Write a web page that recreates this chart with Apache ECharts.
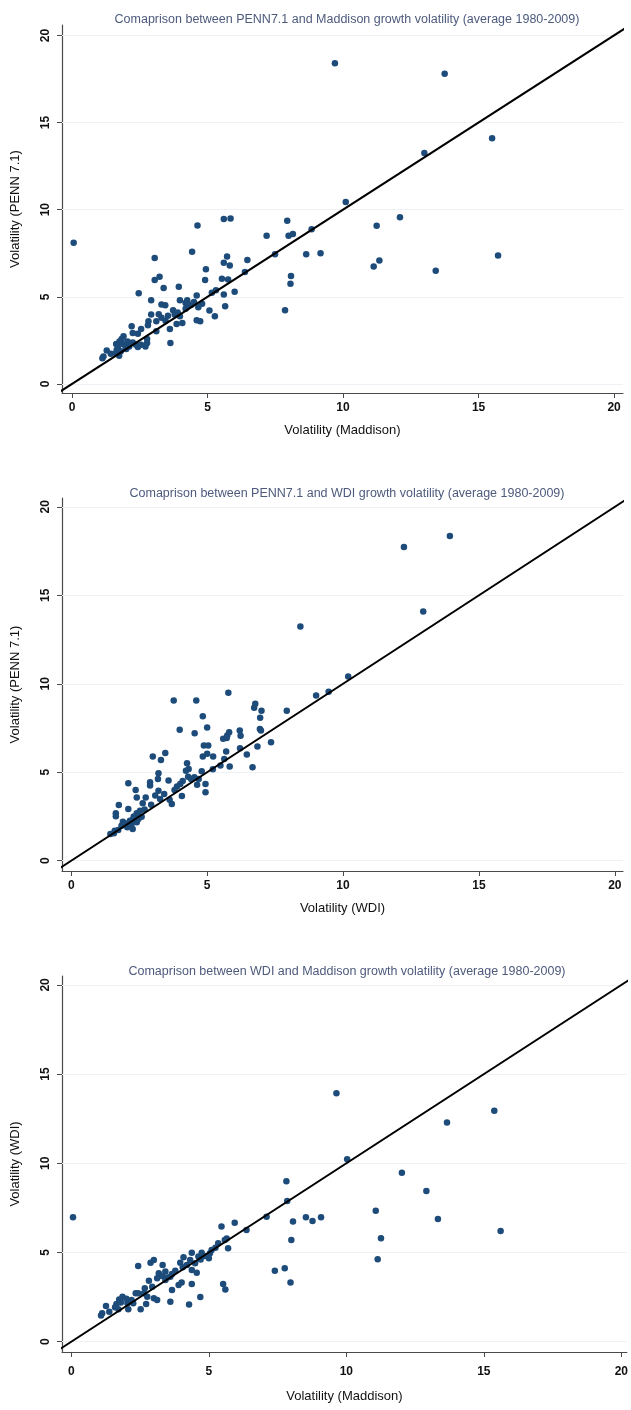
<!DOCTYPE html>
<html>
<head>
<meta charset="UTF-8">
<title>Volatility comparison</title>
<script src="https://cdn.jsdelivr.net/npm/echarts@6/dist/echarts.min.js"></script>
<style>
  html, body { margin: 0; padding: 0; background: #fff; }
  #main { width: 631px; height: 1410px; }
</style>
</head>
<body>
<div id="main"></div>
<script>
// ---- data: [x, y] per country ----
var tickValues = [0, 5, 10, 15, 20];
var titles = [
    'Comaprison between PENN7.1 and Maddison growth volatility (average 1980-2009)',
    'Comaprison between PENN7.1 and WDI growth volatility (average 1980-2009)',
    'Comaprison between WDI and Maddison growth volatility (average 1980-2009)'
];
var xNames = ['Volatility (Maddison)', 'Volatility (WDI)', 'Volatility (Maddison)'];
var yNames = ['Volatility (PENN 7.1)', 'Volatility (PENN 7.1)', 'Volatility (WDI)'];

// Maddison (x) vs PENN 7.1 (y)
var maddisonPenn = [
    [0.06, 8.1], [4.63, 9.1], [5.6, 9.46], [5.85, 9.5], [7.94, 9.37], [7.18, 8.5], [7.99, 8.5],
    [8.15, 8.6], [8.84, 8.88], [3.05, 7.23], [4.43, 7.58], [5.72, 7.31], [5.6, 6.96], [5.82, 6.8],
    [6.47, 7.12], [7.49, 7.44], [8.64, 7.44], [9.17, 7.5], [4.94, 6.58], [6.38, 6.42], [3.05, 5.96],
    [3.23, 6.15], [4.91, 5.96], [5.53, 6.04], [5.76, 6.0], [8.08, 6.19], [8.06, 5.75], [3.38, 5.5],
    [3.94, 5.58], [2.46, 5.21], [2.92, 4.81], [3.3, 4.56], [3.44, 4.52], [3.98, 4.81], [4.25, 4.81],
    [4.6, 5.08], [5.16, 5.23], [5.31, 5.38], [5.6, 5.13], [6.0, 5.29], [5.65, 4.46], [7.86, 4.23],
    [5.07, 4.21], [5.27, 3.88], [4.19, 4.65], [4.29, 4.56], [4.66, 4.4], [4.19, 4.31], [3.73, 4.23],
    [3.54, 3.92], [3.79, 3.98], [3.98, 3.88], [2.92, 3.98], [2.82, 3.6], [3.11, 3.6], [3.45, 3.63],
    [3.61, 3.15], [3.86, 3.44], [4.07, 3.5], [4.6, 3.65], [4.73, 3.6], [2.2, 3.31], [2.55, 3.15],
    [2.8, 3.37], [3.11, 3.02], [2.43, 2.88], [2.24, 2.92], [1.9, 2.73], [1.83, 2.58], [1.75, 2.44],
    [1.63, 2.29], [1.7, 2.15], [1.65, 1.96], [1.8, 1.87], [2.24, 2.38], [2.36, 2.25], [2.55, 2.25],
    [2.77, 2.35], [2.77, 2.58], [2.11, 2.15], [2.43, 2.12], [3.63, 2.35], [2.71, 2.15], [1.12, 1.48],
    [1.16, 1.58], [1.28, 1.92], [1.43, 1.73], [1.62, 1.77], [1.74, 1.62], [1.97, 2.15], [2.05, 2.44],
    [4.4, 4.55], [4.5, 4.7], [4.8, 4.6], [3.9, 4.1], [3.3, 3.8], [2.0, 2.0], [1.85, 2.3], [3.2, 4.0],
    [9.7, 18.4], [13.75, 17.8], [15.5, 14.1], [13.0, 13.26], [10.1, 10.44], [12.1, 9.56],
    [11.24, 9.08], [11.34, 7.09], [11.13, 6.74], [13.42, 6.49], [15.72, 7.37]
];

// WDI (x) vs PENN 7.1 (y)
var wdiPenn = [
    [5.78, 9.49], [3.77, 9.06], [4.6, 9.06], [4.84, 8.17], [6.77, 8.87], [6.73, 8.64], [7.0, 8.47],
    [7.93, 8.47], [9.01, 9.34], [9.47, 9.55], [6.95, 8.08], [5.0, 7.53], [3.99, 7.4], [4.54, 7.21],
    [5.59, 6.89], [5.72, 6.94], [5.81, 7.26], [5.74, 7.08], [6.2, 7.36], [6.23, 7.06], [6.94, 7.45],
    [6.98, 7.36], [7.35, 6.7], [6.85, 6.45], [6.21, 6.36], [6.46, 6.0], [6.67, 5.28], [5.83, 5.32],
    [5.49, 5.38], [5.63, 5.75], [5.7, 6.17], [4.88, 6.51], [5.04, 6.51], [4.84, 5.89], [5.0, 6.04],
    [5.22, 5.89], [5.21, 5.17], [4.8, 5.06], [3.0, 5.89], [3.3, 5.7], [3.46, 6.09], [4.26, 5.51],
    [4.32, 5.19], [4.22, 5.09], [3.21, 4.94], [3.19, 4.62], [2.9, 4.43], [2.9, 4.25], [2.1, 4.38],
    [2.37, 4.0], [3.58, 4.53], [3.89, 4.19], [4.01, 4.34], [4.3, 4.75], [4.41, 4.62], [4.53, 4.72],
    [4.69, 4.62], [4.94, 4.34], [4.94, 3.87], [4.63, 4.3], [4.07, 3.66], [3.7, 3.21], [3.62, 3.45],
    [3.42, 3.77], [3.21, 3.96], [3.09, 3.68], [3.27, 3.49], [2.74, 3.58], [2.94, 3.17], [2.63, 3.25],
    [2.41, 3.58], [2.1, 2.92], [1.75, 3.15], [1.64, 2.68], [1.64, 2.51], [2.41, 2.68], [2.53, 2.83],
    [2.59, 2.49], [2.28, 2.36], [2.16, 2.26], [2.01, 2.11], [1.85, 1.98], [2.26, 1.79], [2.06, 1.89],
    [1.6, 1.7], [1.44, 1.51], [1.57, 1.55], [2.41, 2.17], [1.73, 1.74], [2.47, 2.36], [2.22, 2.08],
    [3.8, 4.0], [4.1, 4.5], [2.7, 2.9], [1.9, 2.2], [2.3, 2.5],
    [12.24, 17.73], [13.93, 18.35], [12.95, 14.09], [8.43, 13.24], [10.19, 10.41]
];

// Maddison (x) vs WDI (y)
var maddisonWdi = [
    [0.06, 6.97], [7.82, 8.99], [7.85, 7.89], [7.1, 7.0], [8.53, 6.97], [8.77, 6.77], [9.08, 6.97],
    [8.06, 6.73], [8.0, 5.7], [5.94, 6.67], [5.46, 6.45], [6.37, 6.26], [7.4, 3.98], [7.76, 4.11],
    [7.97, 3.31], [5.52, 3.23], [5.6, 2.93], [5.7, 5.23], [5.65, 5.79], [5.58, 5.7], [5.34, 5.51],
    [5.24, 5.27], [5.04, 4.95], [5.0, 4.67], [4.83, 4.8], [4.62, 4.77], [4.74, 4.99], [4.38, 4.99],
    [4.5, 4.39], [4.38, 4.02], [4.56, 3.87], [4.38, 3.23], [4.69, 2.5], [4.28, 2.09], [4.08, 4.73],
    [3.96, 4.43], [4.05, 4.17], [3.78, 3.98], [3.6, 3.64], [4.01, 3.31], [3.9, 3.18], [3.66, 2.9],
    [3.6, 2.24], [3.32, 4.3], [3.0, 4.58], [2.88, 4.43], [2.43, 4.24], [3.18, 3.83], [3.3, 3.68],
    [3.42, 3.46], [3.12, 3.55], [2.82, 3.42], [2.94, 3.08], [2.67, 2.99], [2.43, 2.71], [3.0, 2.43],
    [3.12, 2.34], [2.72, 2.11], [2.52, 1.81], [2.19, 2.34], [2.04, 2.15], [1.86, 2.52], [1.74, 2.37],
    [1.64, 2.11], [1.59, 1.93], [1.71, 1.81], [1.38, 1.68], [1.26, 2.0], [1.12, 1.59], [1.08, 1.46],
    [2.07, 1.81], [2.25, 2.15], [2.34, 2.71], [2.64, 2.71], [2.76, 2.52], [3.42, 3.93], [3.66, 3.79],
    [4.2, 4.3], [4.32, 4.58], [5.1, 5.14], [1.8, 2.2], [2.0, 2.4], [3.5, 3.6], [4.7, 4.6],
    [9.64, 13.92], [15.38, 12.95], [13.66, 12.28], [10.03, 10.22], [12.02, 9.47], [12.91, 8.45],
    [11.07, 7.34], [13.33, 6.88], [15.61, 6.2], [11.26, 5.8], [11.14, 4.62]
];

var fitLine = [[-1, -1], [21, 21]];
var panelData = [maddisonPenn, wdiPenn, maddisonWdi];

// ---- layout of the three panels ----
var grids = [
    { left: 62, top: 25, width: 561, height: 368 },
    { left: 62, top: 498, width: 561, height: 373 },
    { left: 62, top: 976, width: 569, height: 376 }
];
var xRanges = [[-0.37, 20.33], [-0.34, 20.3], [-0.34, 20.2]];
var yRanges = [[-0.52, 20.6], [-0.58, 20.5], [-0.58, 20.5]];
var titleTops = [8, 482, 960];
var xLabelMargins = [9, 9, 14];
var xNameGaps = [31, 31, 38];

var dotColor = '#1d4b7a';
var axisColor = '#4a4a4a';

var option = {
    animation: false,
    backgroundColor: '#fff',
    title: [],
    grid: grids,
    xAxis: [],
    yAxis: [],
    series: []
};

for (var i = 0; i < 3; i++) {
    option.title.push({
        text: titles[i],
        left: 342,
        top: titleTops[i],
        textAlign: 'center',
        textStyle: { color: '#4d5a7c', fontSize: 12.5, fontWeight: 'normal', fontFamily: 'Liberation Sans' }
    });
    option.xAxis.push({
        type: 'value',
        gridIndex: i,
        min: xRanges[i][0],
        max: xRanges[i][1],
        name: xNames[i],
        nameLocation: 'middle',
        nameGap: xNameGaps[i],
        nameTextStyle: { color: '#111', fontSize: 13, fontFamily: 'Liberation Sans' },
        axisLine: { onZero: false, lineStyle: { color: axisColor, width: 1.2 } },
        axisTick: { show: true, length: 5, customValues: tickValues, lineStyle: { color: axisColor } },
        axisLabel: { customValues: tickValues, color: '#111', fontSize: 12, fontWeight: 'bold',
            fontFamily: 'Liberation Sans', margin: xLabelMargins[i] },
        splitLine: { show: false }
    });
    option.yAxis.push({
        type: 'value',
        gridIndex: i,
        min: yRanges[i][0],
        max: yRanges[i][1],
        name: yNames[i],
        nameLocation: 'middle',
        nameGap: 40,
        nameTextStyle: { color: '#111', fontSize: 13, fontFamily: 'Liberation Sans' },
        axisLine: { show: true, onZero: false, lineStyle: { color: axisColor, width: 1.2 } },
        axisTick: { show: true, length: 5, customValues: tickValues, lineStyle: { color: axisColor } },
        axisLabel: { customValues: tickValues, rotate: 90, color: '#111', fontSize: 12, fontWeight: 'bold',
            fontFamily: 'Liberation Sans', margin: 10 },
        splitLine: { show: false }
    });
    option.series.push({
        type: 'scatter',
        xAxisIndex: i,
        yAxisIndex: i,
        data: panelData[i],
        symbolSize: 6.5,
        itemStyle: { color: dotColor, opacity: 1 },
        z: 2,
        markLine: {
            silent: true,
            symbol: 'none',
            label: { show: false },
            lineStyle: { color: '#eef1f5', type: 'solid', width: 1 },
            data: tickValues.map(function (v) { return { yAxis: v }; }),
            z: 1
        }
    });
    option.series.push({
        type: 'line',
        xAxisIndex: i,
        yAxisIndex: i,
        data: fitLine,
        showSymbol: false,
        clip: true,
        lineStyle: { color: '#000', width: 2 },
        z: 3
    });
}

var myChart = echarts.init(document.getElementById('main'));
myChart.setOption(option);
</script>
</body>
</html>
